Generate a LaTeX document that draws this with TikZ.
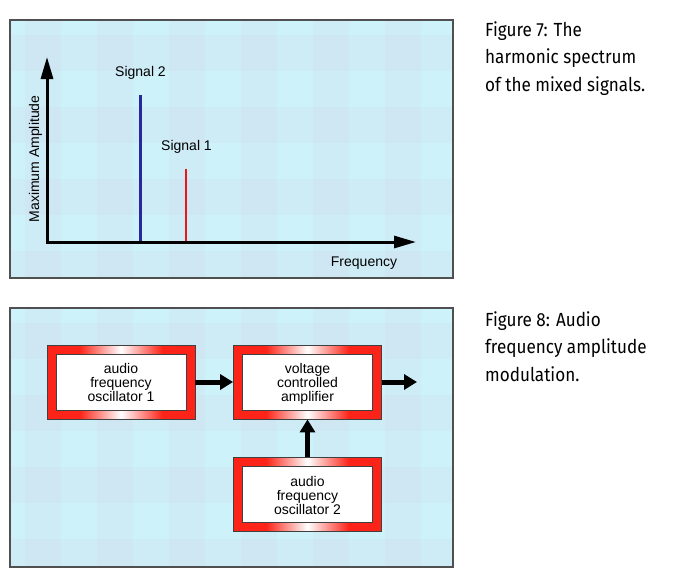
\documentclass[tikz,border=0pt]{standalone}
\usepackage{fontspec}
\setmainfont{Liberation Sans}
\newfontfamily\capfont[FakeStretch=0.9]{Fira Sans}
\usetikzlibrary{arrows.meta}
\definecolor{bgc}{RGB}{205,242,250}
\definecolor{stripec}{RGB}{214,200,226}
\definecolor{framered}{RGB}{252,36,24}
\definecolor{sigblue}{RGB}{40,40,150}
\definecolor{sigred}{RGB}{240,20,20}
\definecolor{panelborder}{RGB}{80,80,80}
\pgfdeclarehorizontalshading{redframe}{100bp}{color(0bp)=(framered); color(25bp)=(framered); color(36bp)=(framered); color(50bp)=(white); color(64bp)=(framered); color(75bp)=(framered); color(100bp)=(framered)}
\tikzset{
  lbl/.style={font=\fontsize{14}{14}\selectfont, inner sep=0pt},
  captext/.style={font=\capfont\fontsize{19}{27.5}\selectfont, align=left, anchor=base west, inner sep=0pt},
  axis/.style={line width=3pt, -{Triangle[length=22pt,width=12pt]}},
  flow/.style={line width=5pt, -{Triangle[length=13pt,width=15pt]}},
  blockbox/.style={shading=redframe, draw=black!75, line width=0.8pt,
    minimum width=148pt, minimum height=74pt, inner sep=0pt,
    path picture={\fill[white,draw=black!75,line width=0.8pt]
      ([shift={(9pt,-9pt)}]path picture bounding box.north west) rectangle
      ([shift={(-9pt,9pt)}]path picture bounding box.south east);}},
  boxtext/.style={font=\fontsize{14}{14}\selectfont, align=center, anchor=base, inner sep=0pt},
}
\newcommand{\gingham}[4]{%
  \begin{scope}
    \clip (#1,#2) rectangle (#3,#4);
    \fill[bgc] (#1,#2) rectangle (#3,#4);
    \foreach \k in {0,...,6} {
      \fill[stripec, opacity=0.14] (#1+15+72*\k,#2) rectangle ++(36,#4-#2);
    }
    \foreach \k in {0,...,4} {
      \fill[stripec, opacity=0.14] (#1,#2+15+72*\k) rectangle ++(#3-#1,36);
    }
  \end{scope}
  \draw[panelborder, line width=1.5pt] (#1,#2) rectangle (#3,#4);
}
\begin{document}
\begin{tikzpicture}[x=1pt,y=-1pt]
\useasboundingbox (0,0) rectangle (679,582);
\fill[white] (0,0) rectangle (679,582);
% ---------- Figure 7 ----------
\gingham{10}{20}{453}{278}
\coordinate (O) at (47,242);
\coordinate (ytip) at (47,57);
\coordinate (xtip) at (416,242);
\coordinate (s2top) at (140,95);
\coordinate (s2bot) at (140,242);
\coordinate (s1top) at (186,169);
\coordinate (s1bot) at (186,242);
\draw[sigblue, line width=3pt] (s2bot) -- (s2top);
\draw[sigred, line width=2pt] (s1bot) -- (s1top);
\draw[axis] ([xshift=-1.5pt]O) -- (xtip);
\draw[axis] ([yshift=-1.5pt]O) -- (ytip);
\node[lbl, anchor=base] (sig2) at (140.5,76) {Signal 2};
\node[lbl, anchor=base] (sig1) at (186.5,150) {Signal 1};
\node[lbl, anchor=base] (freq) at (364,266.5) {Frequency};
\node[lbl, anchor=base, rotate=90] (amp) at (39,159) {Maximum Amplitude};
\node[captext] (cap7) at (485,91) {Figure 7: The\\harmonic spectrum\\of the mixed signals.};
% ---------- Figure 8 ----------
\gingham{10}{308}{453}{567}
\node[blockbox] (osc1) at (121,382) {};
\node[blockbox] (vca) at (307.5,382) {};
\node[blockbox] (osc2) at (307.5,494.5) {};
\node[boxtext] (osc1t) at ([yshift=-19.5pt]osc1.center) {audio\\frequency\\oscillator 1};
\node[boxtext] (vcat) at ([yshift=-19.5pt]vca.center) {voltage\\controlled\\amplifier};
\node[boxtext] (osc2t) at ([yshift=-19.5pt]osc2.center) {audio\\frequency\\oscillator 2};
\coordinate (out) at (417,382);
\draw[flow] (osc1.east) -- (vca.west);
\draw[flow] (vca.east) -- (out);
\draw[flow] (osc2.north) -- (vca.south);
\node[captext] (cap8) at (485,381) {Figure 8: Audio\\frequency amplitude\\modulation.};
\end{tikzpicture}
\end{document}
